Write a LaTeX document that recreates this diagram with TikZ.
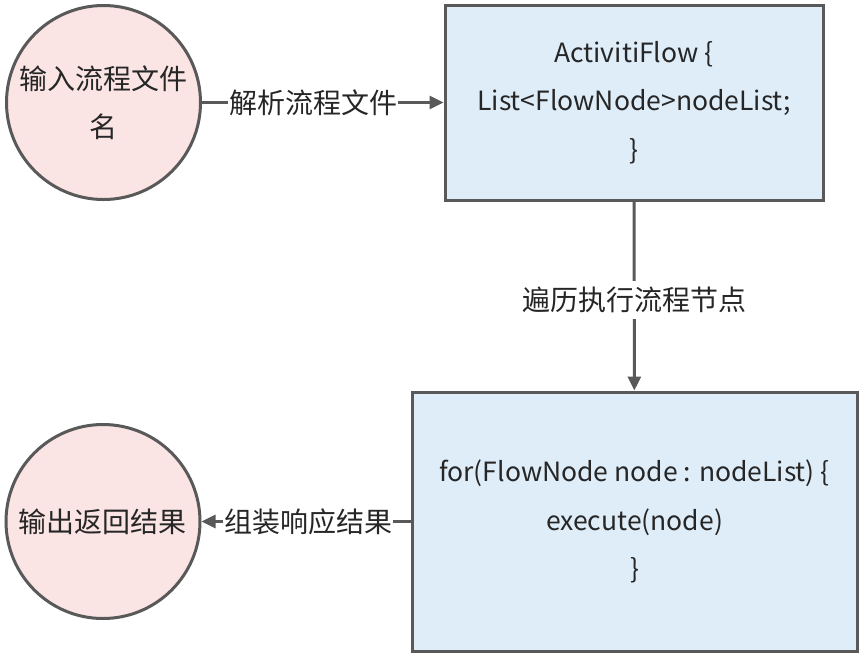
\documentclass[tikz,border=0pt]{standalone}
\usepackage{fontspec}
\setmainfont{Noto Sans CJK SC}
\usetikzlibrary{arrows.meta}
\definecolor{strokegray}{HTML}{595959}
\definecolor{pinkfill}{HTML}{FAE4E4}
\definecolor{bluefill}{HTML}{DFEDF9}
\definecolor{textgray}{HTML}{262626}
\tikzset{
  base/.style={draw=strokegray, line width=3pt, text=textgray, align=center,
    font=\fontsize{28}{48}\selectfont, inner sep=0pt},
  endpoint/.style={base, circle, fill=pinkfill, minimum size=194pt},
  codebox/.style={base, rectangle, fill=bluefill, font=\fontsize{26.5}{48.5}\selectfont},
  conn/.style={draw=strokegray, line width=3pt, -{Triangle[length=14pt,width=13pt]}},
  lbl/.style={fill=white, text=textgray, font=\fontsize{28}{32}\selectfont,
    inner xsep=1pt, inner ysep=6pt}
}
\begin{document}
\begin{tikzpicture}[x=1pt,y=-1pt]
\useasboundingbox (0,0) rectangle (868,657);
\node[endpoint] (c1) at (103.5,102.5) {输入流程文件\\名};
\node[codebox, minimum width=378pt, minimum height=195pt] (b1) at (634,102.5)
  {ActivitiFlow \{\\List<FlowNode>nodeList;\\\}};
\node[codebox, minimum width=445pt, minimum height=259pt] (b2) at (634.5,521.5)
  {for(FlowNode node : nodeList) \{\\execute(node)\\\}};
\node[endpoint] (c2) at (103,521.5) {输出返回结果};
\draw[conn] (c1) -- node[lbl, pos=0.46] {解析流程文件} (b1);
\draw[conn] (b1) -- node[lbl, pos=0.52] {遍历执行流程节点} (b2);
\draw[conn] (b2) -- node[lbl, pos=0.49] {组装响应结果} (c2);
\end{tikzpicture}
\end{document}
